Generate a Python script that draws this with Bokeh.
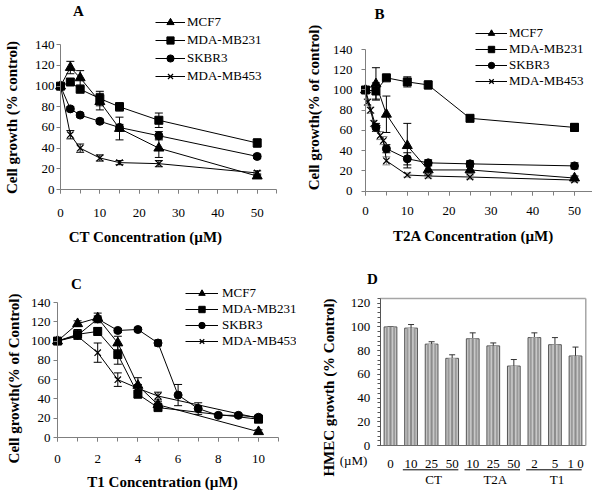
import math
from bokeh.plotting import figure
from bokeh.layouts import column, row
from bokeh.models import (Range1d, FixedTicker, Whisker, TeeHead, ColumnDataSource, Label)
from bokeh.embed import file_html
from bokeh.resources import INLINE

FONT = "Liberation Serif"
MARKERS = {"MCF7": "triangle", "MDA-MB231": "square", "SKBR3": "circle", "MDA-MB453": "x"}
MSIZE = {"MCF7": 10, "MDA-MB231": 8, "SKBR3": 8, "MDA-MB453": 9}

# ---------------- Panel A : CT ----------------
ct_x = [0, 2.5, 5, 10, 15, 25, 50]
ct_mcf7 = [100, 118, 108, 85, 59, 40, 13]
ct_mcf7_err = [2, 6, 7, 8, 11, 9, 2]
ct_mb231 = [100, 104, 97, 88, 80, 67, 45]
ct_mb231_err = [2, 3, 2, 7, 4, 7, 4]
ct_skbr3 = [100, 78, 72, 66, 60, 52, 32]
ct_skbr3_err = [2, 2, 2, 2, 3, 4, 2]
ct_mb453 = [100, 53, 40, 30.5, 26, 25, 16]
ct_mb453_err = [2, 4, 4, 3, 2, 3, 2]

# ---------------- Panel B : T2A ----------------
t2a_x = [0, 2.5, 5, 10, 15, 25, 50]
t2a_mcf7 = [100, 106, 76, 45, 21, 21, 13]
t2a_mcf7_err = [2, 16, 18, 22, 5, 3, 2]
t2a_mb231 = [100, 99, 112, 108, 105, 72, 63]
t2a_mb231_err = [2, 8, 2, 5, 4, 3, 4]
t2a_skbr3 = [100, 63, 42, 32, 28, 27, 25]
t2a_skbr3_err = [2, 4, 4, 6, 3, 3, 3]
t2a_mb453_x = [0, 0.5, 1.2, 2, 2.7, 3.5, 4.3, 5, 10, 15, 25, 50]
t2a_mb453 = [100, 88, 80, 67, 62, 55, 50, 30, 16, 15, 14, 11]
t2a_mb453_err = [2, 3, 3, 3, 3, 4, 4, 4, 2, 2, 2, 2]

# ---------------- Panel C : T1 ----------------
t1_x = [0, 1, 2, 3, 4, 5, 10]
t1_mcf7 = [100, 118, 124, 98, 54, 34, 6]
t1_mcf7_err = [2, 3, 5, 7, 8, 3, 2]
t1_mb231 = [100, 107, 110, 86, 45, 31, 19]
t1_mb231_err = [2, 5, 4, 10, 4, 2, 2]
t1_skbr3_x = [0, 1, 2, 3, 4, 5, 6, 7, 8, 9, 10]
t1_skbr3 = [100, 106, 123, 111, 112, 98, 44, 30, 23, 23, 21]
t1_skbr3_err = [2, 2, 3, 2, 2, 3, 11, 6, 2, 2, 2]
t1_mb453 = [100, 105, 88, 60, 51, 43, 20]
t1_mb453_err = [2, 3, 10, 7, 4, 4, 2]

# ---------------- Panel D : HMEC ----------------
d_pos = [1, 2, 3, 4, 5, 6, 7, 8, 9, 10]
d_labels = ["0", "10", "25", "50", "10", "25", "50", "2", "5", "1 0"]
d_vals = [100, 99, 85.5, 73.5, 90, 84, 67, 91, 85, 75.5]
d_err = [0, 3, 2, 3, 5, 2.5, 5.5, 4, 6, 7.5]
d_groups = ["CT", "T2A", "T1"]
d_group_first = [2, 5, 8]
d_group_last = [4, 7, 10]

W, H = 296, 245
AXIS_GRAY = "#7f7f7f"


def xr(v0, p0, v1, p1):
    k = (p1 - p0) / (v1 - v0)
    return Range1d(v0 - p0 / k, v0 + (W - p0) / k)


def yr(v0, p0, v1, p1):
    # p0, p1: pixel rows from the top of the figure
    k = (p0 - p1) / (v1 - v0)
    return Range1d(v0 - (H - p0) / k, v0 + p0 / k)


def new_fig(x_range, y_range):
    p = figure(width=W, height=H, x_range=x_range, y_range=y_range,
               output_backend="svg", toolbar_location=None,
               min_border=0, min_border_left=0, min_border_right=0,
               min_border_top=0, min_border_bottom=0)
    p.outline_line_color = None
    p.xgrid.visible = False
    p.ygrid.visible = False
    p.background_fill_color = "white"
    p.border_fill_color = "white"
    return p


def style_axes(p, xbounds, ybounds, xtick_standoff, ytick_standoff, color=AXIS_GRAY):
    p.xaxis.fixed_location = ybounds[0]
    p.yaxis.fixed_location = xbounds[0]
    p.xaxis.bounds = xbounds
    p.yaxis.bounds = ybounds
    for ax in (p.xaxis[0], p.yaxis[0]):
        ax.axis_line_color = color
        ax.major_tick_line_color = color
        ax.minor_tick_line_color = color
        ax.major_tick_in = 0
        ax.major_tick_out = 4
        ax.minor_tick_in = 0
        ax.minor_tick_out = 4
        ax.major_label_text_font = FONT
        ax.major_label_text_font_size = "13px"
        ax.major_label_text_color = "black"
    p.xaxis.major_label_standoff = xtick_standoff
    p.yaxis.major_label_standoff = ytick_standoff


def text_at(p, text, fx, fy, size="15px", bold=True, angle=0.0, align="center"):
    p.add_layout(Label(x=fx, y=H - fy, x_units="screen", y_units="screen", text=text,
                       angle=angle, text_font=FONT,
                       text_font_style="bold" if bold else "normal",
                       text_font_size=size, text_color="black",
                       text_align=align, text_baseline="middle"))


def add_series(p, name, xs, ys, errs, err_color="black"):
    src = ColumnDataSource(dict(x=xs, y=ys,
                                up=[v + e for v, e in zip(ys, errs)],
                                lo=[v - e for v, e in zip(ys, errs)]))
    p.add_layout(Whisker(source=src, base="x", upper="up", lower="lo", dimension="height",
                         line_color=err_color, line_width=1,
                         upper_head=TeeHead(size=8, line_color=err_color, line_width=1),
                         lower_head=TeeHead(size=8, line_color=err_color, line_width=1)))
    p.line("x", "y", source=src, line_color="black", line_width=1, legend_label=name)
    m = MARKERS[name]
    if m == "x":
        p.scatter("x", "y", source=src, marker="x", size=MSIZE[name], line_color="black",
                  line_width=1.2, legend_label=name)
    else:
        p.scatter("x", "y", source=src, marker=m, size=MSIZE[name], fill_color="black",
                  line_color="black", legend_label=name)


def style_legend(p, left, top, item_h, glyph_w, standoff):
    lg = p.legend[0]
    n = len(lg.items)
    lg.location = (left, H - (top + n * item_h))
    lg.border_line_color = None
    lg.background_fill_alpha = 0
    lg.padding = 0
    lg.margin = 0
    lg.spacing = 0
    lg.glyph_height = item_h
    lg.label_height = item_h
    lg.glyph_width = glyph_w
    lg.label_standoff = standoff
    lg.label_text_font = FONT
    lg.label_text_font_size = "13px"
    lg.label_text_color = "black"


Y_TICKS = [0, 20, 40, 60, 80, 100, 120, 140]
HALF_PI = math.pi / 2

# ---------- A ----------
pA = new_fig(xr(0, 60, 50, 256.7), yr(0, 189, 140, 44.3))
style_axes(pA, (0, 55), (0, 140), 15, 2)
pA.xaxis.ticker = FixedTicker(ticks=[0, 10, 20, 30, 40, 50], minor_ticks=list(range(0, 56, 5)))
pA.yaxis.ticker = FixedTicker(ticks=Y_TICKS)
add_series(pA, "MCF7", ct_x, ct_mcf7, ct_mcf7_err)
add_series(pA, "MDA-MB231", ct_x, ct_mb231, ct_mb231_err)
add_series(pA, "SKBR3", ct_x, ct_skbr3, ct_skbr3_err)
add_series(pA, "MDA-MB453", ct_x, ct_mb453, ct_mb453_err)
style_legend(pA, 155, 13, 18, 30, 2)
text_at(pA, "A", 78, 10)
text_at(pA, "CT Concentration (\u00b5M)", 145, 236)
text_at(pA, "Cell growth (% control)", 11, 117, angle=HALF_PI)

# ---------- B ----------
pB = new_fig(xr(0, 69, 50, 278), yr(0, 190.7, 140, 49))
style_axes(pB, (0, 55), (0, 140), 12, 9)
pB.xaxis.ticker = FixedTicker(ticks=[0, 10, 20, 30, 40, 50], minor_ticks=list(range(0, 56, 5)))
pB.yaxis.ticker = FixedTicker(ticks=Y_TICKS)
add_series(pB, "MCF7", t2a_x, t2a_mcf7, t2a_mcf7_err)
add_series(pB, "MDA-MB231", t2a_x, t2a_mb231, t2a_mb231_err)
add_series(pB, "SKBR3", t2a_x, t2a_skbr3, t2a_skbr3_err)
add_series(pB, "MDA-MB453", t2a_mb453_x, t2a_mb453, t2a_mb453_err, err_color="#8a8a8a")
style_legend(pB, 179, 25, 16, 32, 2)
text_at(pB, "B", 83, 13)
text_at(pB, "T2A Concentration (\u00b5M)", 177, 235)
text_at(pB, "Cell growth(% of control)", 17, 107, angle=HALF_PI)

# ---------- C ----------
pC = new_fig(xr(0, 57, 10, 258), yr(0, 192, 140, 57))
style_axes(pC, (0, 11), (0, 140), 13, 3)
pC.xaxis.ticker = FixedTicker(ticks=[0, 2, 4, 6, 8, 10], minor_ticks=list(range(0, 12)))
pC.yaxis.ticker = FixedTicker(ticks=Y_TICKS)
add_series(pC, "MCF7", t1_x, t1_mcf7, t1_mcf7_err)
add_series(pC, "MDA-MB231", t1_x, t1_mb231, t1_mb231_err)
add_series(pC, "SKBR3", t1_skbr3_x, t1_skbr3, t1_skbr3_err)
add_series(pC, "MDA-MB453", t1_x, t1_mb453, t1_mb453_err)
style_legend(pC, 185, 40, 16, 33, 4)
text_at(pC, "C", 76, 38)
text_at(pC, "T1 Concentration (\u00b5M)", 162, 236)
text_at(pC, "Cell growth(% of Control)", 13, 133, angle=HALF_PI)

# ---------- D ----------
D_XB = (0.5, 10.5)
D_YB = (0, 124)
pD = new_fig(xr(1, 94, 10, 279), yr(0, 200, 120, 57.7))
style_axes(pD, D_XB, D_YB, 6, 7, color="#555555")
pD.yaxis.ticker = FixedTicker(ticks=[0, 20, 40, 60, 80, 100, 120],
                              minor_ticks=list(range(0, 125, 4)))
pD.yaxis.major_tick_out = 3
pD.yaxis.minor_tick_out = 3
pD.xaxis.ticker = FixedTicker(ticks=d_pos)
pD.xaxis.major_label_overrides = {pos: lab for pos, lab in zip(d_pos, d_labels)}
pD.xaxis.major_tick_line_color = None
pD.xaxis.minor_tick_line_color = None
pD.xaxis.axis_line_color = "#6a6a6a"

# gray frame on the top and right of the plot area
pD.segment(x0=[D_XB[0], D_XB[1]], y0=[D_YB[1], D_YB[0]], x1=[D_XB[1], D_XB[1]],
           y1=[D_YB[1], D_YB[1]], line_color="#a6a6a6", line_width=1.5)

dsrc = ColumnDataSource(dict(x=d_pos, top=d_vals,
                             up=[v + e for v, e in zip(d_vals, d_err)]))
pD.vbar(x="x", top="top", width=0.62, source=dsrc, fill_color="#c4c4c4",
        line_color="#555555", line_width=1)
pD.vbar(x="x", top="top", width=0.44, source=dsrc, fill_color="#9a9a9a", line_color=None)
pD.vbar(x="x", top="top", width=0.26, source=dsrc, fill_color="#c8c8c8", line_color=None)
pD.vbar(x="x", top="top", width=0.10, source=dsrc, fill_color="#8c8c8c", line_color=None)
pD.add_layout(Whisker(source=dsrc, base="x", upper="up", lower="top", dimension="height",
                      line_color="#333333", line_width=1,
                      upper_head=TeeHead(size=6, line_color="#333333", line_width=1),
                      lower_head=None))
# group underlines and group names, placed from the bar positions
gsrc = ColumnDataSource(dict(x0=[a - 0.4 for a in d_group_first],
                             x1=[b + 0.3 for b in d_group_last],
                             xm=[(a + b) / 2 + 0.1 for a, b in zip(d_group_first, d_group_last)],
                             name=d_groups))
pD.segment(x0="x0", x1="x1", y0=-20.5, y1=-20.5, source=gsrc, line_color="black", line_width=1)
pD.text(x="xm", y=-29, text="name", source=gsrc, text_font={"value": FONT},
        text_font_size={"value": "13px"}, text_color="black",
        text_align="center", text_baseline="middle")
text_at(pD, "(\u00b5M)", 57, 215, size="13px", bold=False)
text_at(pD, "D", 76, 33)
text_at(pD, "HMEC growth (% Control)", 32, 142, angle=HALF_PI)

layout = column(row(pA, pB), row(pC, pD))
open("out.html", "w").write(file_html(layout, INLINE))
